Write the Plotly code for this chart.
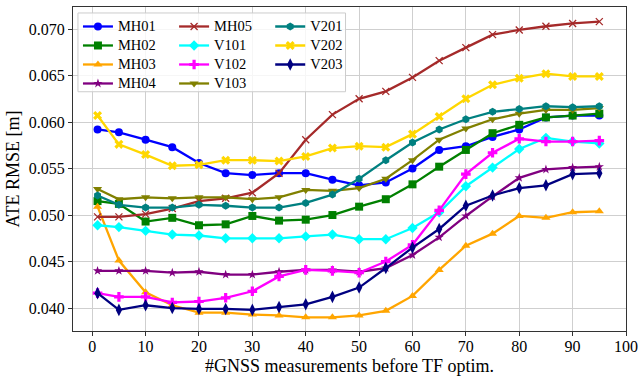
import plotly.graph_objects as go

x_vals = [1, 5, 10, 15, 20, 25, 30, 35, 40, 45, 50, 55, 60, 65, 70, 75, 80, 85, 90, 95]

MH01 = [0.0592, 0.0589, 0.0581, 0.0573, 0.0556, 0.0545, 0.0543, 0.0545, 0.0545, 0.0538, 0.0532, 0.0535, 0.0550, 0.0570, 0.0574, 0.0584, 0.0592, 0.0605, 0.0607, 0.0607]
MH02 = [0.0515, 0.0512, 0.0493, 0.0497, 0.0489, 0.0490, 0.0499, 0.0494, 0.0495, 0.0500, 0.0509, 0.0517, 0.0533, 0.0552, 0.0570, 0.0588, 0.0597, 0.0605, 0.0607, 0.0609]
MH03 = [0.0509, 0.0451, 0.0417, 0.0403, 0.0395, 0.0395, 0.0393, 0.0392, 0.0390, 0.0390, 0.0392, 0.0397, 0.0413, 0.0441, 0.0467, 0.0480, 0.0499, 0.0497, 0.0503, 0.0504]
MH04 = [0.0440, 0.0440, 0.0440, 0.0438, 0.0439, 0.0436, 0.0436, 0.0439, 0.0441, 0.0441, 0.0439, 0.0443, 0.0457, 0.0476, 0.0499, 0.0520, 0.0540, 0.0549, 0.0551, 0.0552]
MH05 = [0.0498, 0.0498, 0.0501, 0.0507, 0.0515, 0.0518, 0.0524, 0.0545, 0.0581, 0.0608, 0.0625, 0.0633, 0.0648, 0.0666, 0.0680, 0.0694, 0.0699, 0.0703, 0.0706, 0.0708]
V101 = [0.0489, 0.0487, 0.0483, 0.0479, 0.0478, 0.0475, 0.0475, 0.0475, 0.0477, 0.0479, 0.0474, 0.0474, 0.0486, 0.0503, 0.0531, 0.0551, 0.0571, 0.0583, 0.0579, 0.0577]
V102 = [0.0416, 0.0412, 0.0412, 0.0406, 0.0407, 0.0411, 0.0418, 0.0434, 0.0441, 0.0440, 0.0438, 0.0450, 0.0468, 0.0505, 0.0544, 0.0567, 0.0582, 0.0579, 0.0579, 0.0580]
V103 = [0.0528, 0.0517, 0.0519, 0.0518, 0.0519, 0.0519, 0.0517, 0.0519, 0.0527, 0.0526, 0.0529, 0.0539, 0.0559, 0.0581, 0.0593, 0.0603, 0.0609, 0.0613, 0.0613, 0.0615]
V201 = [0.0521, 0.0511, 0.0508, 0.0508, 0.0511, 0.0510, 0.0508, 0.0508, 0.0513, 0.0522, 0.0539, 0.0559, 0.0578, 0.0592, 0.0603, 0.0611, 0.0614, 0.0617, 0.0616, 0.0617]
V202 = [0.0607, 0.0576, 0.0565, 0.0553, 0.0554, 0.0559, 0.0559, 0.0558, 0.0563, 0.0572, 0.0574, 0.0573, 0.0587, 0.0606, 0.0625, 0.0640, 0.0647, 0.0652, 0.0649, 0.0649]
V203 = [0.0416, 0.0398, 0.0403, 0.0400, 0.0399, 0.0399, 0.0398, 0.0401, 0.0404, 0.0412, 0.0422, 0.0443, 0.0465, 0.0485, 0.0510, 0.0521, 0.0529, 0.0532, 0.0544, 0.0545]

series_names = ["MH01", "MH02", "MH03", "MH04", "MH05", "V101", "V102", "V103", "V201", "V202", "V203"]
series_data = [MH01, MH02, MH03, MH04, MH05, V101, V102, V103, V201, V202, V203]
colors = ["#0000ff", "#008000", "#ffa500", "#800080", "#a52a2a", "#00ffff", "#ff00ff", "#808000", "#008080", "#ffd700", "#000080"]
symbols = ["circle", "square", "triangle-up", "star", "x-thin", "diamond", "cross", "triangle-down", "hexagon", "x", "diamond-tall"]
sizes = [8, 8, 8, 7, 7, 8, 8, 8, 8, 8, 9]
legend_ids = ["legend", "legend", "legend", "legend", "legend2", "legend2", "legend2", "legend2", "legend3", "legend3", "legend3"]

x_ticks = [0, 10, 20, 30, 40, 50, 60, 70, 80, 90, 100]
y_ticks = [0.040, 0.045, 0.050, 0.055, 0.060, 0.065, 0.070]

FONT = "Liberation Serif, Times New Roman, DejaVu Serif, serif"

fig = go.Figure()
for name, ys, c, s, sz, lg in zip(series_names, series_data, colors, symbols, sizes, legend_ids):
    marker = dict(symbol=s, size=sz, color=c)
    if s == "x-thin":
        marker["line"] = dict(width=1.3, color=c)
    else:
        marker["line"] = dict(width=0)
    fig.add_trace(go.Scatter(
        x=x_vals, y=ys, name='<span style="font-size:14.5px">' + name + '</span>',
        mode="lines+markers",
        line=dict(color=c, width=2.3), marker=marker, legend=lg,
    ))

W, H = 644, 382
ml, mr, mt, mb = 73, 13, 6, 51
pw, ph = W - ml - mr, H - mt - mb

def px_x(p):
    return (p - ml) / pw

def px_y(p):
    return (H - mb - p) / ph

leg_common = dict(
    bgcolor="rgba(0,0,0,0)", borderwidth=0, orientation="v",
    xanchor="left", yanchor="top", font=dict(family=FONT, size=12, color="#000"),
    tracegroupgap=0, itemwidth=30,
)
legy = px_y(11)
fig.update_layout(
    legend=dict(x=px_x(78), y=legy, **leg_common),
    legend2=dict(x=px_x(175), y=legy, **leg_common),
    legend3=dict(x=px_x(272), y=legy, **leg_common),
)

fig.add_shape(type="rect", xref="paper", yref="paper",
              x0=px_x(78), x1=px_x(348), y0=px_y(91), y1=px_y(12),
              line=dict(color="#cccccc", width=1), fillcolor="rgba(255,255,255,0.8)",
              layer="above")

fig.update_layout(
    width=W, height=H,
    margin=dict(l=ml, r=mr, t=mt, b=mb),
    paper_bgcolor="white", plot_bgcolor="white",
    font=dict(family=FONT, size=16, color="#000"),
    showlegend=True,
)
fig.update_xaxes(
    range=[-3.6, 100], tickvals=x_ticks, ticks="outside", ticklen=4, tickcolor="#333",
    showline=True, linecolor="#333", linewidth=1.2, mirror=True,
    showgrid=True, gridcolor="#cfcfcf", gridwidth=1, zeroline=False,
    tickfont=dict(family=FONT, size=16), ticklabelstandoff=-3,
    title=dict(text="#GNSS measurements before TF optim.", font=dict(family=FONT, size=18), standoff=5),
)
fig.update_yaxes(
    range=[0.03753, 0.07237], tickvals=y_ticks, tickformat=".3f", ticks="outside", ticklen=4, tickcolor="#333",
    showline=True, linecolor="#333", linewidth=1.2, mirror=True,
    showgrid=True, gridcolor="#cfcfcf", gridwidth=1, zeroline=False,
    tickfont=dict(family=FONT, size=16),
    title=dict(text="ATE RMSE [m]", font=dict(family=FONT, size=18), standoff=4),
)

fig.write_html("out.html", config={"displayModeBar": False},
               post_script="document.body.style.margin='0';document.body.style.padding='0';")
